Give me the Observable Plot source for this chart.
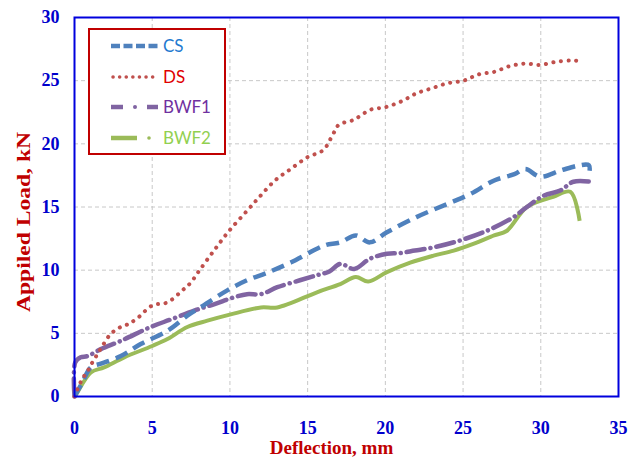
<!DOCTYPE html>
<html>
<head>
<meta charset="utf-8">
<script src="https://cdn.jsdelivr.net/npm/d3@7"></script>
<script src="https://cdn.jsdelivr.net/npm/@observablehq/plot@0.6"></script>
<style>
  html, body { margin: 0; padding: 0; background: #fff; }
  #wrap { position: relative; width: 639px; height: 457px; overflow: hidden; }
  #legend { position: absolute; left: 88px; top: 28px; width: 134px; height: 123px;
    border: 2px solid #c00000; background: #fff; }
  #legend svg { position: absolute; left: 0; top: 0; }
</style>
</head>
<body>
<div id="wrap"></div>
<script>
// ---- data ----
const seriesNames = ["CS", "DS", "BWF1", "BWF2"];
const xTicks = [0, 5, 10, 15, 20, 25, 30, 35];
const yTicks = [0, 5, 10, 15, 20, 25, 30];

const csX = [0, 0.5, 1.05, 1.7, 2.98, 4.26, 5.98, 7.26, 8.1, 9.83, 11.1, 12.4, 13.9, 15.6, 16.2, 17.1, 18.1, 19.0, 20.1, 22.0, 24.0, 25.5, 27.0, 28.3, 29.0, 29.96, 31.3, 32.5, 33.1, 33.1];
const csY = [0, 1.1, 2.3, 2.6, 3.2, 4.15, 5.2, 6.4, 7.05, 8.4, 9.2, 9.8, 10.6, 11.7, 12.0, 12.2, 12.75, 12.2, 13.0, 14.2, 15.25, 16.05, 17.1, 17.6, 18.0, 17.4, 17.9, 18.3, 18.3, 17.5];

const dsX = [0, 0.5, 0.84, 1.15, 1.5, 1.8, 2.33, 2.97, 3.5, 4.05, 5.0, 5.98, 6.94, 7.47, 8.05, 8.97, 9.94, 11.1, 11.9, 12.9, 13.9, 15.0, 16.0, 16.65, 17.0, 17.97, 19.04, 20.0, 21.1, 22.0, 23.0, 24.0, 25.04, 26.0, 27.0, 28.0, 29.0, 29.96, 31.0, 32.0, 32.5];
const dsY = [0, 1.4, 2.0, 2.7, 3.4, 4.0, 4.95, 5.5, 5.75, 6.2, 7.2, 7.45, 8.4, 9.0, 10.0, 11.55, 13.1, 14.7, 15.8, 17.1, 18.0, 18.95, 19.5, 20.8, 21.5, 21.9, 22.7, 22.9, 23.4, 24.0, 24.4, 24.8, 25.0, 25.5, 25.7, 26.15, 26.35, 26.25, 26.5, 26.6, 26.55];

const bwf1X = [0, 0.05, 0.4, 0.84, 1.7, 2.98, 4.9, 6.2, 7.7, 8.97, 10.26, 11.1, 12.0, 13.05, 14.5, 15.6, 16.4, 17.1, 18.0, 19.0, 20.1, 20.9, 21.9, 23.1, 24.8, 26.5, 28.25, 29.0, 30.2, 31.25, 32.1, 33.2];
const bwf1Y = [0, 2.7, 3.1, 3.2, 3.75, 4.4, 5.5, 6.1, 6.8, 7.3, 7.85, 8.1, 8.1, 8.65, 9.2, 9.6, 9.9, 10.5, 10.1, 10.9, 11.3, 11.35, 11.55, 11.8, 12.35, 13.1, 14.2, 14.9, 15.9, 16.3, 17.0, 17.0];

const bwf2X = [0, 0.1, 1.05, 1.9, 3.2, 5.0, 5.98, 7.26, 8.55, 10.05, 12.0, 13.05, 15.6, 17.1, 18.1, 18.9, 20.1, 21.6, 23.1, 24.4, 25.7, 27.0, 27.8, 29.1, 30.8, 31.9, 32.5];
const bwf2Y = [0, 0.15, 1.9, 2.3, 3.1, 4.0, 4.55, 5.5, 6.0, 6.5, 7.05, 7.05, 8.25, 8.9, 9.45, 9.1, 9.85, 10.6, 11.15, 11.55, 12.1, 12.75, 13.1, 15.0, 15.8, 16.2, 13.9];

// ---- styles ----
const lineColors = {CS: "#4f81bd", DS: "#c0504d", BWF1: "#8064a2", BWF2: "#9bbb59"};
const textColors = {CS: "#1f7ad0", DS: "#e00000", BWF1: "#7030a0", BWF2: "#92d050"};
const dashes = {CS: "13,7", DS: "0.1,7.5", BWF1: "18,6,0.1,6", BWF2: null};

const toRows = (xs, ys) => xs.map((x, i) => ({x, y: ys[i]}));
const data = {
  CS: toRows(csX, csY),
  DS: toRows(dsX, dsY),
  BWF1: toRows(bwf1X, bwf1Y),
  BWF2: toRows(bwf2X, bwf2Y)
};

const serif = "'Liberation Serif', 'Times New Roman', serif";

const lineMark = (name, width) => Plot.line(data[name], {
  x: "x", y: "y", curve: "catmull-rom",
  stroke: lineColors[name], strokeWidth: width,
  strokeDasharray: dashes[name] || undefined,
  strokeLinecap: name === "DS" || name === "BWF1" ? "round" : "butt",
  strokeLinejoin: "round"
});

const chart = Plot.plot({
  width: 639, height: 457,
  marginLeft: 74, marginRight: 21, marginTop: 17, marginBottom: 61,
  style: {fontFamily: serif, background: "#fff"},
  x: {domain: [0, 35]},
  y: {domain: [0, 30]},
  marks: [
    Plot.gridX(xTicks.filter(d => d > 0 && d < 35), {stroke: "#c8c8c8", strokeOpacity: 1, strokeDasharray: "4,3"}),
    Plot.gridY(yTicks.filter(d => d > 0 && d < 30), {stroke: "#c8c8c8", strokeOpacity: 1, strokeDasharray: "4,3"}),
    lineMark("BWF2", 4),
    lineMark("BWF1", 4.5),
    lineMark("CS", 4.5),
    lineMark("DS", 4),
    Plot.frame({stroke: "#0000dd", strokeWidth: 2}),
    Plot.axisX(xTicks, {tickSize: 0, tickPadding: 25, fontSize: 18, fontWeight: "bold", fill: "#0000cc", label: null}),
    Plot.axisY(yTicks, {tickSize: 0, tickPadding: 15, fontSize: 18, fontWeight: "bold", fill: "#0000cc", label: null}),
    Plot.text(["Deflection, mm"], {frameAnchor: "bottom", lineAnchor: "middle", textAnchor: "middle", dx: -15, dy: 51, fontSize: 19, fontWeight: "bold", fill: "#c00000", fontFamily: serif}),
    Plot.text(["Appiled Load, kN"], {frameAnchor: "left", textAnchor: "middle", lineAnchor: "middle", rotate: -90, dx: -51, dy: 15, fontSize: 19, fontWeight: "bold", fill: "#c00000", fontFamily: serif, className: "ylabel"})
  ]
});

// stretch the y-axis label along its length like the reference
d3.select(chart).selectAll(".ylabel text")
  .attr("textLength", 180).attr("lengthAdjust", "spacingAndGlyphs");

const wrap = document.getElementById("wrap");
wrap.appendChild(chart);

// ---- legend ----
const legend = document.createElement("div");
legend.id = "legend";
wrap.appendChild(legend);
const lsvg = d3.select(legend).append("svg").attr("width", 134).attr("height", 123);
const rowY = [16, 47, 77, 108];
seriesNames.forEach((name, i) => {
  const y = rowY[i];
  const g = lsvg.append("g");
  if (name === "BWF1") {
    g.append("line").attr("x1", 21).attr("x2", 33).attr("y1", y).attr("y2", y)
      .attr("stroke", lineColors[name]).attr("stroke-width", 4.5);
    g.append("circle").attr("cx", 45).attr("cy", y).attr("r", 2).attr("fill", lineColors[name]);
    g.append("line").attr("x1", 57).attr("x2", 68).attr("y1", y).attr("y2", y)
      .attr("stroke", lineColors[name]).attr("stroke-width", 4.5);
  } else if (name === "BWF2") {
    g.append("line").attr("x1", 21).attr("x2", 47).attr("y1", y).attr("y2", y)
      .attr("stroke", lineColors[name]).attr("stroke-width", 4.5);
    g.append("circle").attr("cx", 59).attr("cy", y).attr("r", 1.8).attr("fill", lineColors[name]);
  } else {
    g.append("line").attr("x1", name === "DS" ? 23 : 21).attr("x2", 68).attr("y1", y).attr("y2", y)
      .attr("stroke", lineColors[name]).attr("stroke-width", name === "DS" ? 3.5 : 4.5)
      .attr("stroke-dasharray", name === "DS" ? "0.1,6.5" : "9,3.5")
      .attr("stroke-linecap", name === "DS" ? "round" : "butt");
  }
  g.append("text").attr("x", 73).attr("y", y).attr("dy", "0.35em")
    .attr("font-family", "Lato, 'Open Sans', sans-serif").attr("font-size", 17)
    .attr("fill", textColors[name]).text(name);
});
</script>
</body>
</html>
